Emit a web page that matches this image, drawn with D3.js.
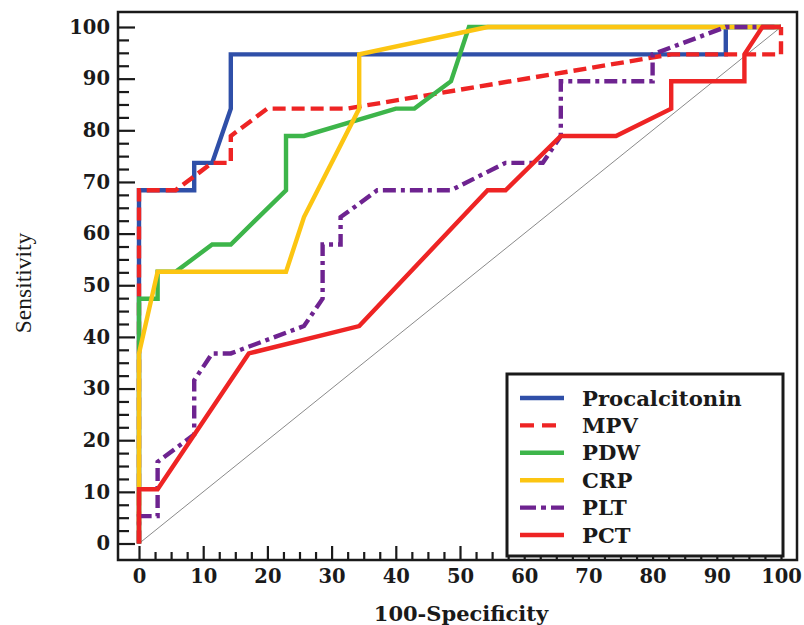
<!DOCTYPE html>
<html>
<head>
<meta charset="utf-8">
<script src="https://cdn.jsdelivr.net/npm/d3@7/dist/d3.min.js"></script>
<style>
  body { margin: 0; background: #fff; }
  svg text { fill: #1a1a1a; }
  .tick text { font-family: "DejaVu Serif", serif; font-weight: bold; font-size: 19.5px; }
</style>
</head>
<body>
<script>
// ROC curves: x = 100-Specificity, y = Sensitivity
const seriesNames = ['Procalcitonin', 'MPV', 'PDW', 'CRP', 'PLT', 'PCT']

const procalcitoninX = [0, 0, 8.6, 8.6, 11.4, 14.3, 14.3, 91.4, 91.4, 100]
const procalcitoninY = [0, 68.4, 68.4, 73.7, 73.7, 84.2, 94.7, 94.7, 100, 100]

const mpvX = [0, 0, 5.7, 11.4, 14.3, 14.3, 20, 32.4, 82.9, 100, 100]
const mpvY = [0, 68.4, 68.4, 73.7, 73.7, 78.9, 84.2, 84.2, 94.7, 94.7, 100]

const pdwX = [0, 0, 2.9, 2.9, 5.7, 11.4, 14.3, 22.9, 22.9, 25.7, 40, 42.9, 48.6, 51.4, 100]
const pdwY = [0, 47.4, 47.4, 52.6, 52.6, 57.9, 57.9, 68.4, 78.9, 78.9, 84.2, 84.2, 89.5, 100, 100]

const crpX = [0, 0, 2.9, 22.9, 25.7, 34.3, 34.3, 54.3, 100]
const crpY = [0, 36.8, 52.6, 52.6, 63.2, 84.2, 94.7, 100, 100]

const pltX = [0, 0, 2.9, 2.9, 8.6, 8.6, 11.4, 14.3, 25.7, 28.6, 28.6, 31.4, 31.4, 34.3, 37.1, 48.6, 57.1, 62.9, 65.7, 65.7, 80, 80, 91.4, 100]
const pltY = [0, 5.3, 5.3, 15.8, 21.1, 31.6, 36.8, 36.8, 42.1, 47.4, 57.9, 57.9, 63.2, 65.8, 68.4, 68.4, 73.7, 73.7, 78.9, 89.5, 89.5, 94.7, 100, 100]

const pctX = [0, 0, 2.9, 17.1, 34.3, 54.3, 57.1, 65.7, 74.3, 82.9, 82.9, 94.3, 94.3, 97.1, 100]
const pctY = [0, 10.5, 10.5, 36.8, 42.1, 68.4, 68.4, 78.9, 78.9, 84.2, 89.5, 89.5, 94.7, 100, 100]

const xTicks = [0, 10, 20, 30, 40, 50, 60, 70, 80, 90, 100]
const yTicks = [0, 10, 20, 30, 40, 50, 60, 70, 80, 90, 100]

const style = {
  Procalcitonin: { color: '#2f4fa8', dash: null },
  MPV: { color: '#ee2424', dash: '13,6' },
  PDW: { color: '#3db54a', dash: null },
  CRP: { color: '#fcc512', dash: null },
  PLT: { color: '#6e2390', dash: '13,5,4,5' },
  PCT: { color: '#ee2424', dash: null }
}

const curves = {
  Procalcitonin: d3.zip(procalcitoninX, procalcitoninY),
  MPV: d3.zip(mpvX, mpvY),
  PDW: d3.zip(pdwX, pdwY),
  CRP: d3.zip(crpX, crpY),
  PLT: d3.zip(pltX, pltY),
  PCT: d3.zip(pctX, pctY)
}

const size = { width: 804, height: 625 }
const frame = { left: 118, top: 12, right: 797, bottom: 560 }

const svg = d3.select('body').append('svg')
  .attr('width', size.width)
  .attr('height', size.height)

const xScale = d3.scaleLinear().domain([0, 100]).range([139, 781])
const yScale = d3.scaleLinear().domain([0, 100]).range([543.5, 27])

// minor ticks every 2.5
const minor = d3.range(0, 100.01, 2.5).filter(v => v % 10 !== 0)

svg.append('g')
  .attr('transform', `translate(${frame.left},0)`)
  .call(d3.axisLeft(yScale).tickValues(minor).tickSize(-11).tickFormat(''))
svg.append('g')
  .attr('transform', `translate(${frame.left},0)`)
  .call(d3.axisLeft(yScale).tickValues(yTicks).tickSize(-17).tickPadding(8))
svg.append('g')
  .attr('transform', `translate(0,${frame.bottom})`)
  .call(d3.axisBottom(xScale).tickValues(minor).tickSize(-8).tickFormat(''))
svg.append('g')
  .attr('transform', `translate(0,${frame.bottom})`)
  .call(d3.axisBottom(xScale).tickValues(xTicks).tickSize(-14).tickPadding(9))

svg.selectAll('.domain').remove()
svg.selectAll('.tick line').attr('stroke', '#1a1a1a').attr('stroke-width', 2.2)

// frame
svg.append('rect')
  .attr('x', frame.left).attr('y', frame.top)
  .attr('width', frame.right - frame.left)
  .attr('height', frame.bottom - frame.top)
  .attr('fill', 'none')
  .attr('stroke', '#1a1a1a')
  .attr('stroke-width', 2.5)

// reference diagonal
svg.append('line')
  .attr('x1', xScale(0)).attr('y1', yScale(0))
  .attr('x2', xScale(100)).attr('y2', yScale(100))
  .attr('stroke', '#8a8a8a')
  .attr('stroke-width', 1)

const line = d3.line().x(d => xScale(d[0])).y(d => yScale(d[1]))

seriesNames.forEach(name => {
  svg.append('path')
    .datum(curves[name])
    .attr('d', line)
    .attr('fill', 'none')
    .attr('stroke', style[name].color)
    .attr('stroke-width', 4.4)
    .attr('stroke-linejoin', 'miter')
    .attr('stroke-dasharray', style[name].dash)
})

// legend
const legend = svg.append('g').attr('id', 'legend')
legend.append('rect')
  .attr('x', 507).attr('y', 374)
  .attr('width', 276).attr('height', 182)
  .attr('fill', '#fff')
  .attr('stroke', '#1a1a1a')
  .attr('stroke-width', 3)

seriesNames.forEach((name, i) => {
  const cy = 398 + i * 27.4
  legend.append('line')
    .attr('x1', 520).attr('x2', 564)
    .attr('y1', cy).attr('y2', cy)
    .attr('stroke', style[name].color)
    .attr('stroke-width', 4.4)
    .attr('stroke-dasharray', name === 'MPV' ? '14,8' : name === 'PLT' ? '16,5,5,5' : null)
  legend.append('text')
    .attr('x', 582).attr('y', cy)
    .attr('dy', '0.36em')
    .attr('font-family', 'DejaVu Serif, serif')
    .attr('font-weight', 'bold')
    .attr('font-size', 21.2)
    .text(name)
})

// axis titles
svg.append('text')
  .attr('x', 461).attr('y', 614)
  .attr('dy', '0.35em')
  .attr('text-anchor', 'middle')
  .attr('font-family', 'DejaVu Serif, serif')
  .attr('font-weight', 'bold')
  .attr('font-size', 21)
  .text('100-Specificity')

svg.append('text')
  .attr('transform', 'translate(23,283) rotate(-90)')
  .attr('dy', '0.35em')
  .attr('text-anchor', 'middle')
  .attr('font-family', 'Liberation Serif, serif')
  .attr('font-size', 23.5)
  .text('Sensitivity')
</script>
</body>
</html>
